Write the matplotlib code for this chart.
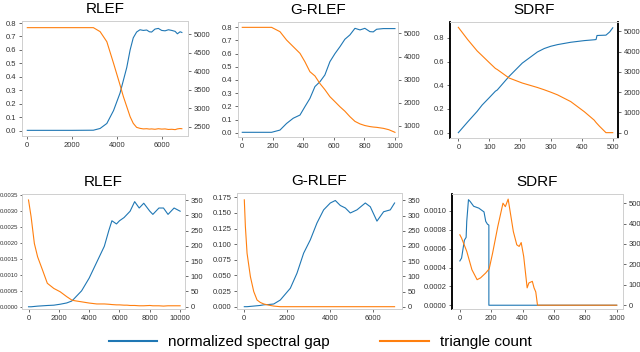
import matplotlib
matplotlib.use("Agg")
import matplotlib.pyplot as plt
from matplotlib.lines import Line2D
from matplotlib.ticker import FormatStrFormatter, MultipleLocator

plt.rcParams['font.family'] = ['Liberation Sans', 'DejaVu Sans']

BLUE = '#1f77b4'
ORANGE = '#ff7f0e'

# --- top row ---
rlef_x = [0, 1000, 2000, 2950, 3250, 3550, 3850, 4140, 4290, 4440, 4590, 4730,
          4880, 5030, 5180, 5330, 5450, 5550, 5700, 5850, 6000, 6150, 6300,
          6450, 6600, 6700, 6820, 6900]
rlef_gap = [0.003, 0.003, 0.003, 0.004, 0.017, 0.054, 0.15, 0.28, 0.375, 0.47,
            0.6, 0.69, 0.733, 0.75, 0.745, 0.748, 0.735, 0.733, 0.755, 0.76,
            0.745, 0.742, 0.75, 0.745, 0.738, 0.72, 0.735, 0.73]
rlef_tri = [5180, 5180, 5180, 5180, 5072, 4800, 4215, 3628, 3312, 3042, 2771,
            2590, 2482, 2455, 2440, 2445, 2435, 2440, 2430, 2445, 2435, 2440,
            2425, 2430, 2420, 2440, 2450, 2445]

grlef_x = [0, 100, 192, 247, 290, 334, 378, 410, 443, 476, 509, 541, 574, 607,
           640, 672, 705, 738, 771, 803, 836, 858, 880, 924, 960, 1000]
grlef_gap = [0.003, 0.003, 0.003, 0.02, 0.07, 0.11, 0.134, 0.197, 0.26, 0.35,
             0.387, 0.438, 0.539, 0.6, 0.653, 0.709, 0.742, 0.792, 0.78, 0.792,
             0.767, 0.765, 0.785, 0.79, 0.79, 0.79]
grlef_tri = [5259, 5259, 5259, 5072, 4712, 4424, 4137, 3777, 3345, 3160, 2830,
             2570, 2266, 2050, 1830, 1640, 1403, 1200, 1090, 1020, 975, 955,
             942, 899, 840, 727]

sdrf_x = [0, 30, 61, 77, 100, 120, 126, 164, 207, 256, 278, 299, 321, 364, 408,
          440, 446, 449, 457, 478, 490, 500]
sdrf_gap = [0.0, 0.09, 0.18, 0.233, 0.295, 0.35, 0.36, 0.474, 0.587, 0.681,
            0.71, 0.729, 0.743, 0.763, 0.777, 0.784, 0.786, 0.82, 0.821, 0.823,
            0.85, 0.885]
sdrf_tri = [5200, 4600, 4033, 3800, 3460, 3170, 3117, 2700, 2450, 2230, 2117,
            2000, 1867, 1533, 1033, 617, 500, 450, 317, 0, 0, 0]

# --- bottom row ---
rlef2_x = [0, 170, 385, 600, 920, 1240, 1670, 2090, 2520, 2850, 3000, 3500,
           4000, 4500, 5000, 5300, 5500, 5800, 6000, 6300, 6500, 6700, 7000,
           7300, 7600, 8000, 8200, 8600, 8900, 9200, 9600, 10000]
rlef2_gap = [0.0, 0.0, 0.00001, 0.00002, 0.00003, 0.00004, 0.00005, 0.00008,
             0.00012, 0.00018, 0.00025, 0.0005, 0.0009, 0.0014, 0.0019, 0.0024,
             0.0027, 0.0026, 0.0027, 0.0028, 0.0029, 0.003, 0.0033, 0.0031,
             0.00325, 0.003, 0.0029, 0.0031, 0.0031, 0.0029, 0.0031, 0.003]
rlef2_tri = [351, 296, 208, 164, 121, 77, 60, 49, 33, 22, 20, 16, 12, 9, 9, 8,
             7, 6, 6, 5, 5, 4, 4, 3, 3, 4, 3, 3, 2, 3, 3, 3]

grlef2_x = [0, 50, 128, 283, 438, 593, 744, 903, 1140, 1368, 1674, 2140, 2450,
            2760, 3070, 3380, 3690, 4000, 4233, 4465, 4700, 4930, 5240, 5628,
            5860, 6170, 6480, 6790, 6990]
grlef2_gap = [0.0, 0.0, 0.0, 0.0005, 0.001, 0.0015, 0.002, 0.003, 0.0035,
              0.0043, 0.0107, 0.0295, 0.0536, 0.0857, 0.107, 0.134, 0.155,
              0.166, 0.17, 0.162, 0.158, 0.15, 0.155, 0.166, 0.16, 0.137,
              0.152, 0.155, 0.166]
grlef2_tri = [352, 264, 176, 99, 50, 22, 14, 9, 5, 2, 0, 0, 0, 0, 0, 0, 0, 0,
              0, 0, 0, 0, 0, 0, 0, 0, 0, 0, 0]

sdrf2_gap_x = [0, 11, 29, 40, 44, 55, 66, 88, 121, 154, 165, 176, 185, 185,
               1000]
sdrf2_gap = [0.00047, 0.0005, 0.00069, 0.00072, 0.00089, 0.00112, 0.0011,
             0.00105, 0.00103, 0.00099, 0.00089, 0.00086, 0.00085, 0.0, 0.0]
sdrf2_tri_x = [0, 11, 44, 77, 110, 132, 165, 187, 209, 242, 275, 290, 308, 319,
               341, 363, 378, 391, 407, 429, 440, 462, 473, 484, 495, 1000]
sdrf2_tri = [345, 329, 264, 174, 125, 134, 158, 178, 256, 386, 500, 483, 520,
             467, 361, 296, 288, 307, 239, 85, 109, 117, 85, 65, 0, 0]

W, H = 640, 352
fig = plt.figure(figsize=(W / 100, H / 100), dpi=100)


def box(l, t, r, b):
    return [l / W, 1 - b / H, (r - l) / W, (b - t) / H]


def panel(rect, title, x, gap, tri, xlim, ylim, y2lim, xstep, ystep, y2step,
          yfmt, x2=None, dark=(), ysize=5.5):
    ax = fig.add_axes(rect)
    ax2 = ax.twinx()
    ax.plot(x, gap, color=BLUE, lw=0.8)
    ax2.plot(x if x2 is None else x2, tri, color=ORANGE, lw=0.8)
    ax.set_xlim(*xlim)
    ax.set_ylim(*ylim)
    ax2.set_ylim(*y2lim)
    ax.xaxis.set_major_locator(MultipleLocator(xstep))
    ax.yaxis.set_major_locator(MultipleLocator(ystep))
    ax2.yaxis.set_major_locator(MultipleLocator(y2step))
    ax.yaxis.set_major_formatter(FormatStrFormatter(yfmt))
    for a in (ax, ax2):
        a.tick_params(labelsize=5.5, length=2, width=0.5, pad=2,
                      colors='#333333')
        for name, sp in a.spines.items():
            if name in dark:
                sp.set_color('black')
                sp.set_linewidth(1.1)
            else:
                sp.set_color('#d0d0d0')
                sp.set_linewidth(0.7)
    ax.tick_params(axis='y', labelsize=ysize)
    ax.set_title(title, fontsize=11, pad=6)
    return ax, ax2


panel(box(22, 21, 188, 136), 'RLEF', rlef_x, rlef_gap, rlef_tri,
      (-237, 7174), (-0.039, 0.815), (2248, 5360), 2000, 0.1, 500, '%.1f')
panel(box(238, 22, 398, 137), 'G-RLEF', grlef_x, grlef_gap, grlef_tri,
      (-28, 1020), (-0.0326, 0.84), (525, 5490), 200, 0.1, 1000, '%.1f')
panel(box(450, 22, 618, 138), 'SDRF', sdrf_x, sdrf_gap, sdrf_tri,
      (-27, 517), (-0.045, 0.934), (-264, 5463), 100, 0.2, 1000, '%.1f',
      dark=('left', 'right'))

ax4, ax4b = panel(box(22, 194, 185, 309), 'RLEF', rlef2_x, rlef2_gap,
                  rlef2_tri, (-430, 10320), (-0.00007, 0.00354),
                  (-7.6, 370.7), 2000, 0.0005, 50, '%.4f', ysize=4.3)
ax4.tick_params(axis='y', length=1.5, pad=1)
panel(box(237, 193, 402, 309), 'G-RLEF', grlef2_x, grlef2_gap, grlef2_tri,
      (-340, 7335), (-0.0037, 0.182), (-7.6, 374.5), 2000, 0.025, 50, '%.3f')
panel(box(452, 194, 623, 309), 'SDRF', sdrf2_gap_x, sdrf2_gap, sdrf2_tri,
      (-50, 1040), (-0.00004, 0.00118), (-18.6, 545), 200, 0.0002, 100,
      '%.4f', x2=sdrf2_tri_x, dark=('left',))

handles = [Line2D([], [], color=BLUE, lw=1.5),
           Line2D([], [], color=ORANGE, lw=1.5)]
fig.legend(handles, ['normalized spectral gap', 'triangle count'],
           loc='center', bbox_to_anchor=(0.5, 0.027), ncol=2, frameon=False,
           fontsize=11, handlelength=3.2, columnspacing=3.3,
           handletextpad=0.7)

fig.savefig('out.png', dpi=100)
